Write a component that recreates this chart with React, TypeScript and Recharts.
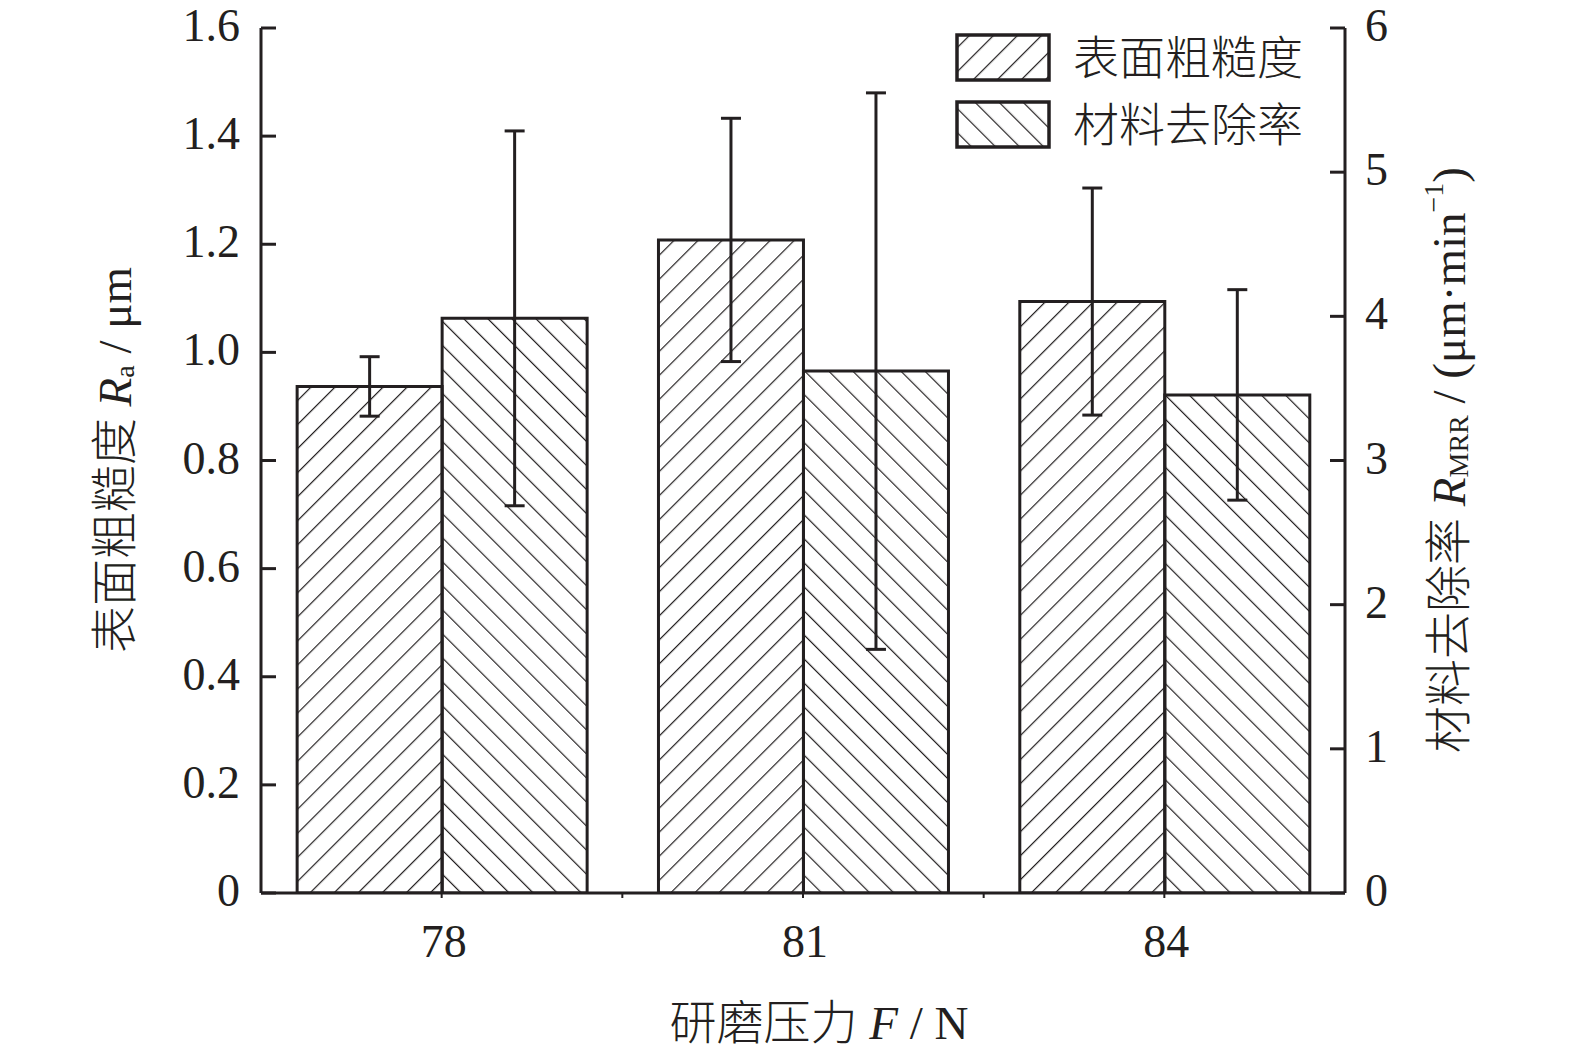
import React from 'react';
import { BarChart, Bar, XAxis, YAxis, ErrorBar, Legend } from 'recharts';

const categories = ['78', '81', '84'];
const raValues = [0.937, 1.208, 1.094];
const raErrors = [0.055, 0.225, 0.21];
const mrrValues = [3.986, 3.62, 3.455];
const mrrErrors = [1.3, 1.93, 0.73];
const raTicks = [0, 0.2, 0.4, 0.6, 0.8, 1.0, 1.2, 1.4, 1.6];
const mrrTicks = [0, 1, 2, 3, 4, 5, 6];
const seriesNames = ['表面粗糙度', '材料去除率'];
const seriesKeys = ['ra', 'mrr'];

const INK = '#231f20';
const SERIF = "'Liberation Serif', 'Noto Sans CJK SC', serif";
const W = 1575;
const H = 1053;
const LEFT_AXIS_X = 261;
const RIGHT_AXIS_X = 1345;
const BOTTOM_Y = 893;
const TOP_Y = 28;
const BAND = (RIGHT_AXIS_X - LEFT_AXIS_X) / categories.length;

const data = categories.map((c, i) => ({
  force: c,
  ra: raValues[i],
  raErr: raErrors[i],
  mrr: mrrValues[i],
  mrrErr: mrrErrors[i],
}));

const LeftTick = (props: any) => {
  const { y, payload } = props;
  const v = payload.value as number;
  const label = v === 0 ? '0' : v.toFixed(1);
  return (
    <g>
      <line x1={LEFT_AXIS_X} x2={LEFT_AXIS_X + 15} y1={y} y2={y} stroke={INK} strokeWidth={3} />
      <text x={LEFT_AXIS_X - 21} y={y + 13} textAnchor="end" fontFamily={SERIF} fontSize={46} fill={INK}>
        {label}
      </text>
    </g>
  );
};

const RightTick = (props: any) => {
  const { y, payload } = props;
  return (
    <g>
      <line x1={RIGHT_AXIS_X - 15} x2={RIGHT_AXIS_X} y1={y} y2={y} stroke={INK} strokeWidth={3} />
      <text x={RIGHT_AXIS_X + 20} y={y + 13} textAnchor="start" fontFamily={SERIF} fontSize={46} fill={INK}>
        {String(payload.value)}
      </text>
    </g>
  );
};

const BottomTick = (props: any) => {
  const { x, payload, index } = props;
  return (
    <g>
      <line x1={x} x2={x} y1={BOTTOM_Y} y2={BOTTOM_Y + 5} stroke={INK} strokeWidth={2} />
      {index < categories.length - 1 && (
        <line x1={x + BAND / 2} x2={x + BAND / 2} y1={BOTTOM_Y} y2={BOTTOM_Y + 5} stroke={INK} strokeWidth={2} />
      )}
      <text x={x + 2} y={957} textAnchor="middle" fontFamily={SERIF} fontSize={46} fill={INK}>
        {payload.value}
      </text>
    </g>
  );
};

const LeftTitle = () => (
  <text
    x={115}
    y={460}
    transform="rotate(-90 115 460)"
    textAnchor="middle"
    dominantBaseline="central"
    fontFamily={SERIF}
    fontWeight={300}
    fontSize={47}
    fill={INK}
  >
    <tspan>表面粗糙度 </tspan>
    <tspan fontStyle="italic">R</tspan>
    <tspan fontSize={28} dy={9}>a</tspan>
    <tspan dy={-9}> / μm</tspan>
  </text>
);

const RightTitle = () => (
  <text
    x={1449}
    y={460}
    transform="rotate(-90 1449 460)"
    textAnchor="middle"
    dominantBaseline="central"
    fontFamily={SERIF}
    fontWeight={300}
    fontSize={47}
    fill={INK}
  >
    <tspan>材料去除率 </tspan>
    <tspan fontStyle="italic">R</tspan>
    <tspan fontSize={28} dy={9}>MRR</tspan>
    <tspan dy={-9}> / (μm·min</tspan>
    <tspan fontSize={28} dy={-16}>−1</tspan>
    <tspan dy={16}>)</tspan>
  </text>
);

const BottomTitle = () => (
  <text
    x={819}
    y={1023}
    textAnchor="middle"
    dominantBaseline="central"
    fontFamily={SERIF}
    fontWeight={300}
    fontSize={47}
    fill={INK}
  >
    <tspan>研磨压力 </tspan>
    <tspan fontStyle="italic">F</tspan>
    <tspan> / N</tspan>
  </text>
);

const patternIds = ['hatchRa', 'hatchMrr'];
const legendPatternIds = ['legRa', 'legMrr'];

const LegendContent = (props: any) => {
  const payload = (props.payload || []) as any[];
  const ordered = seriesKeys
    .map((k) => payload.find((p) => p.dataKey === k))
    .filter(Boolean);
  return (
    <svg width={370} height={125} style={{ display: 'block' }}>
      <defs>
        <pattern id={legendPatternIds[0]} patternUnits="userSpaceOnUse" width={17} height={17} patternTransform="rotate(45)">
          <line x1={0} y1={0} x2={0} y2={17} stroke={INK} strokeWidth={2.4} />
        </pattern>
        <pattern id={legendPatternIds[1]} patternUnits="userSpaceOnUse" width={17} height={17} patternTransform="rotate(-45)">
          <line x1={0} y1={0} x2={0} y2={17} stroke={INK} strokeWidth={2.4} />
        </pattern>
      </defs>
      {ordered.map((entry: any, i: number) => {
        const top = i === 0 ? 5 : 72;
        return (
          <g key={i}>
            <rect x={7} y={top} width={92} height={45} fill={`url(#${legendPatternIds[i]})`} stroke={INK} strokeWidth={3.5} />
            <text x={123} y={top + 23} dominantBaseline="central" fontFamily={SERIF} fontWeight={300} fontSize={46} fill={INK}>
              {entry.value}
            </text>
          </g>
        );
      })}
    </svg>
  );
};

export default function App() {
  return (
    <div style={{ position: 'absolute', left: 0, top: 0, width: W, height: H, background: '#fff' }}>
      <BarChart
        width={W}
        height={H}
        data={data}
        margin={{ top: TOP_Y, right: 0, bottom: 0, left: 0 }}
        barCategoryGap="10%"
        barGap={0}
      >
        <defs>
          <pattern id={patternIds[0]} patternUnits="userSpaceOnUse" width={17} height={17} patternTransform="rotate(45)">
            <line x1={0} y1={0} x2={0} y2={17} stroke={INK} strokeWidth={2.4} />
          </pattern>
          <pattern id={patternIds[1]} patternUnits="userSpaceOnUse" width={17} height={17} patternTransform="rotate(-45)">
            <line x1={0} y1={0} x2={0} y2={17} stroke={INK} strokeWidth={2.4} />
          </pattern>
        </defs>
        <XAxis
          dataKey="force"
          type="category"
          height={H - BOTTOM_Y}
          axisLine={{ stroke: INK, strokeWidth: 3 }}
          tickLine={false}
          tick={<BottomTick />}
          interval={0}
          label={{ content: () => <BottomTitle /> }}
        />
        <YAxis
          yAxisId="ra"
          orientation="left"
          width={LEFT_AXIS_X}
          domain={[0, 1.6]}
          ticks={raTicks}
          allowDataOverflow
          axisLine={{ stroke: INK, strokeWidth: 3 }}
          tickLine={false}
          tick={<LeftTick />}
          interval={0}
          label={{ content: () => <LeftTitle /> }}
        />
        <YAxis
          yAxisId="mrr"
          orientation="right"
          width={W - RIGHT_AXIS_X}
          domain={[0, 6]}
          ticks={mrrTicks}
          allowDataOverflow
          axisLine={{ stroke: INK, strokeWidth: 3 }}
          tickLine={false}
          tick={<RightTick />}
          interval={0}
          label={{ content: () => <RightTitle /> }}
        />
        <Legend
          layout="horizontal"
          verticalAlign="middle"
          align="center"
          wrapperStyle={{ position: 'absolute', left: 950, top: 30, width: 370, height: 125 }}
          content={<LegendContent />}
        />
        <Bar
          yAxisId="ra"
          dataKey="ra"
          name={seriesNames[0]}
          fill={`url(#${patternIds[0]})`}
          stroke={INK}
          strokeWidth={3}
          isAnimationActive={false}
        >
          <ErrorBar dataKey="raErr" width={10} stroke={INK} strokeWidth={3} direction="y" />
        </Bar>
        <Bar
          yAxisId="mrr"
          dataKey="mrr"
          name={seriesNames[1]}
          fill={`url(#${patternIds[1]})`}
          stroke={INK}
          strokeWidth={3}
          isAnimationActive={false}
        >
          <ErrorBar dataKey="mrrErr" width={10} stroke={INK} strokeWidth={3} direction="y" />
        </Bar>
      </BarChart>
    </div>
  );
}
